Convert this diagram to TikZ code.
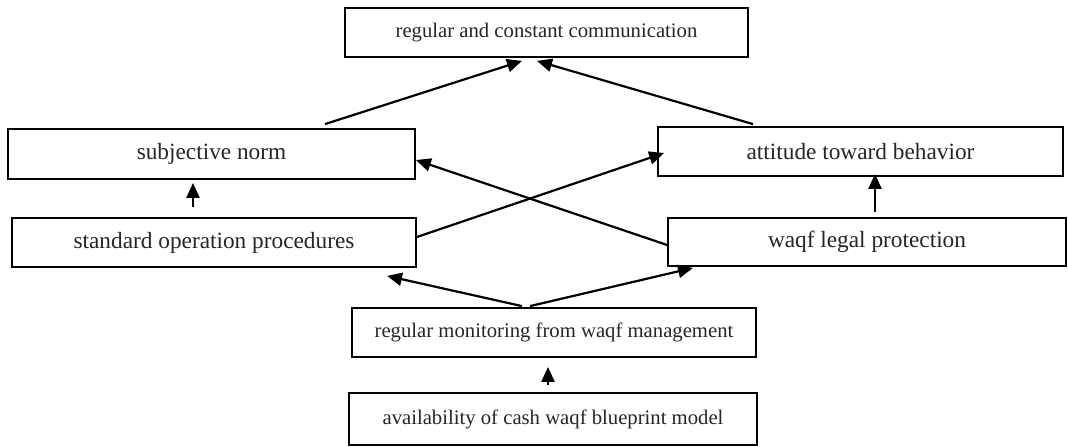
\documentclass[tikz,border=0pt]{standalone}
\usepackage{fontspec}
\setmainfont{Liberation Serif}
\usetikzlibrary{arrows.meta}
\begin{document}
\begin{tikzpicture}[x=1pt,y=-1pt,
  box/.style={draw=black, line width=1.8pt, rectangle, inner sep=0pt, text=black!85},
  big/.style={font=\fontsize{23.3pt}{26pt}\selectfont},
  small/.style={font=\fontsize{20.7pt}{24pt}\selectfont},
  arr/.style={line width=2.2pt, draw=black, -{Triangle[length=15pt,width=13pt]}}]
\useasboundingbox[fill=white] (0,0) rectangle (1068,447);
\node[box,small,minimum width=403pt,minimum height=49pt] (top) at (546.5,32.5) {regular and constant communication};
\node[box,big,minimum width=407pt,minimum height=50pt] (sn) at (211.5,154) {subjective norm};
\node[box,big,minimum width=404pt,minimum height=49pt] (sop) at (214,242.5) {standard operation procedures};
\node[box,big,minimum width=405pt,minimum height=49pt] (att) at (860.5,151.5) {attitude toward behavior};
\node[box,big,minimum width=398pt,minimum height=48pt] (wlp) at (867,242) {waqf legal protection};
\node[box,small,minimum width=404pt,minimum height=49pt] (mon) at (554,332.5) {regular monitoring from waqf management};
\node[box,small,minimum width=408pt,minimum height=52pt] (avl) at (553,419) {availability of cash waqf blueprint model};
% arrows
\draw[arr] ([xshift=113.5pt,yshift=4pt]sn.north) -- ([xshift=-24.5pt,yshift=-3pt]top.south);
\draw[arr] ([xshift=-107.5pt,yshift=2pt]att.north) -- ([xshift=-9.5pt,yshift=-3pt]top.south);
\draw[arr] ([xshift=-21pt,yshift=10pt]sop.north) -- ([xshift=-18.5pt,yshift=-3pt]sn.south);
\draw[arr] ([yshift=5.5pt]sop.east) -- ([xshift=7pt,yshift=-1.5pt]att.west);
\draw[arr] ([yshift=-3pt]wlp.west) -- ([yshift=-6pt]sn.east);
\draw[arr] ([xshift=8pt,yshift=5pt]wlp.north) -- ([xshift=14.5pt,yshift=3pt]att.south);
\draw[arr] ([xshift=-32pt,yshift=1pt]mon.north) -- ([xshift=173pt,yshift=-8pt]sop.south);
\draw[arr] ([xshift=-24pt,yshift=1pt]mon.north) -- ([xshift=-174pt,yshift=-1pt]wlp.south);
\draw[arr] ([xshift=-5pt,yshift=7pt]avl.north) -- ([xshift=-6pt,yshift=-9pt]mon.south);
\end{tikzpicture}
\end{document}
